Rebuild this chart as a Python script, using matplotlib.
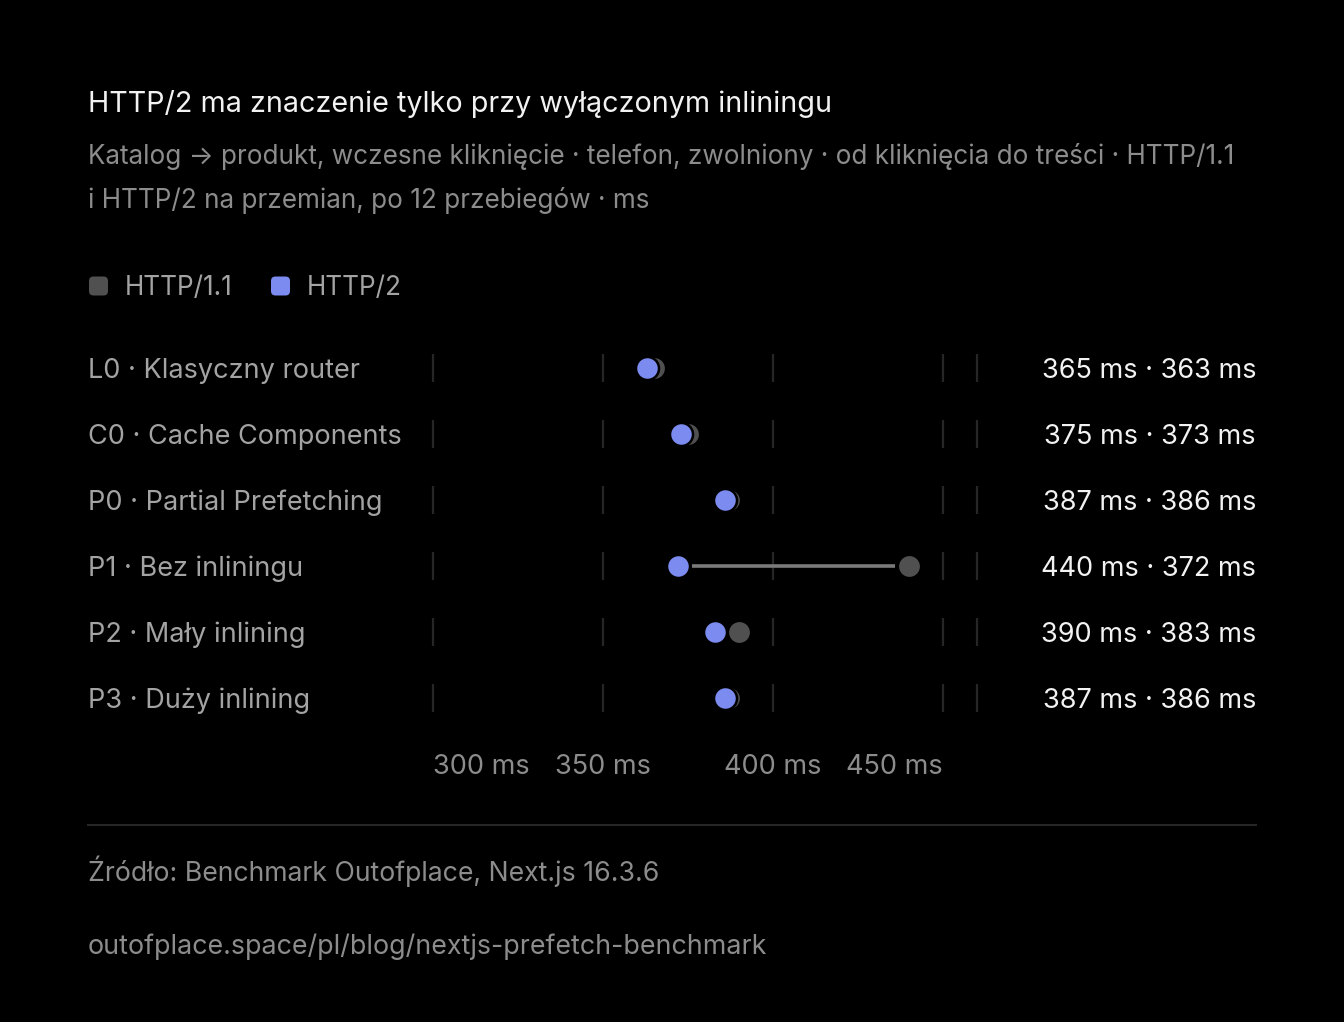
# HTTP/2 vs HTTP/1.1: dumbbell chart of click-to-content times

import matplotlib.pyplot as plt
from matplotlib.patches import FancyBboxPatch
import matplotlib.transforms as mtransforms

plt.rcParams['font.family'] = ['Inter', 'DejaVu Sans']

# Data
ROWS = [
    "L0 · Klasyczny router",
    "C0 · Cache Components",
    "P0 · Partial Prefetching",
    "P1 · Bez inliningu",
    "P2 · Mały inlining",
    "P3 · Duży inlining",
]
HTTP11 = [365, 375, 387, 440, 390, 387]
HTTP2 = [363, 373, 386, 372, 383, 386]
TICKS = [300, 350, 400, 450]
TICK_LABELS = ["300 ms", "350 ms", "400 ms", "450 ms"]
X_MIN, X_MAX = 300, 460

TITLE = "HTTP/2 ma znaczenie tylko przy wyłączonym inliningu"
SUBTITLE = ("Katalog → produkt, wczesne kliknięcie · telefon, zwolniony · od kliknięcia do treści · HTTP/1.1\n"
            "i HTTP/2 na przemian, po 12 przebiegów · ms")
SOURCE = "Źródło: Benchmark Outofplace, Next.js 16.3.6"
URL = "outofplace.space/pl/blog/nextjs-prefetch-benchmark"

# Colours
BG = "#000000"
BLUE = "#7b8bf0"
GREY_DOT = "#505050"
LINE = "#7a7a7a"
GRID = "#262626"
WHITE = "#f2f2f2"
MUTED = "#8c8c8c"
LABEL = "#a3a3a3"

W, H = 1344, 1022
DY = 2.5  # Inter sits a touch high with va="center"
fig = plt.figure(figsize=(W / 100, H / 100), dpi=100, facecolor=BG)

# overlay axes in pixel coordinates for text
bg = fig.add_axes([0, 0, 1, 1])
bg.set_xlim(0, W)
bg.set_ylim(H, 0)
bg.axis("off")

bg.text(88, 101 + DY, TITLE, color=WHITE, fontsize=20.7, va="center", ha="left")
bg.text(88, 176 + DY, SUBTITLE, color=MUTED, fontsize=18.8, va="center", ha="left",
        linespacing=1.78)

# legend
for x0, col, name in [(89, GREY_DOT, "HTTP/1.1"), (271, BLUE, "HTTP/2")]:
    bg.add_patch(FancyBboxPatch((x0 + 2, 278.5), 15, 15,
                                boxstyle="round,pad=2,rounding_size=4.5",
                                fc=col, ec="none"))
    bg.text(x0 + 36, 286 + DY, name, color=LABEL, fontsize=18.8, va="center", ha="left")

# chart axes
row_h = 66
top_px = 368 - row_h / 2
bot_px = 698 + row_h / 2
left_px, right_px = 433, 977
ax = fig.add_axes([left_px / W, 1 - bot_px / H, (right_px - left_px) / W,
                   (bot_px - top_px) / H])
ax.set_facecolor("none")
ax.set_xlim(X_MIN, X_MAX)
ax.set_ylim(len(ROWS) - 0.5, -0.5)
ax.axis("off")

px_per_ms = (right_px - left_px) / (X_MAX - X_MIN)
gap = 14.5 / px_per_ms

for i, (name, a, b) in enumerate(zip(ROWS, HTTP11, HTTP2)):
    for t in TICKS + [X_MAX]:
        ax.plot([t, t], [i - 0.21, i + 0.21], color=GRID, lw=1.6,
                solid_capstyle="butt", zorder=1, clip_on=False)
    lo, hi = min(a, b), max(a, b)
    if hi - lo > 2 * gap:
        ax.plot([lo + gap, hi - gap], [i, i], color=LINE, lw=2.6,
                solid_capstyle="butt", zorder=2)
    ax.scatter([a], [i], s=275, color=GREY_DOT, edgecolors=BG, linewidths=1.6,
               zorder=3, clip_on=False)
    ax.scatter([b], [i], s=275, color=BLUE, edgecolors=BG, linewidths=1.8,
               zorder=4, clip_on=False)

    y_px = top_px + row_h * (i + 0.5) + DY
    bg.text(88, y_px, name, color=LABEL, fontsize=19.5, va="center", ha="left")
    bg.text(1256, y_px, f"{a} ms · {b} ms", color=WHITE, fontsize=19.5,
            va="center", ha="right")

# x tick labels under the rows
trans = mtransforms.blended_transform_factory(ax.transData, bg.transData)
aligns = ["left", "center", "center", "right"]
for t, lab, al in zip(TICKS, TICK_LABELS, aligns):
    ax.text(t, 764 + DY, lab, color=MUTED, fontsize=19.5, va="center", ha=al,
            transform=trans)

# separator and footer
bg.plot([88, 1256], [825, 825], color=GRID, lw=1.5)
bg.text(88, 870 + 1, SOURCE, color=MUTED, fontsize=19.2, va="center", ha="left")
bg.text(88, 944 + DY, URL, color=MUTED, fontsize=19.3, va="center", ha="left")

fig.savefig("out.png", dpi=100, facecolor=BG)
